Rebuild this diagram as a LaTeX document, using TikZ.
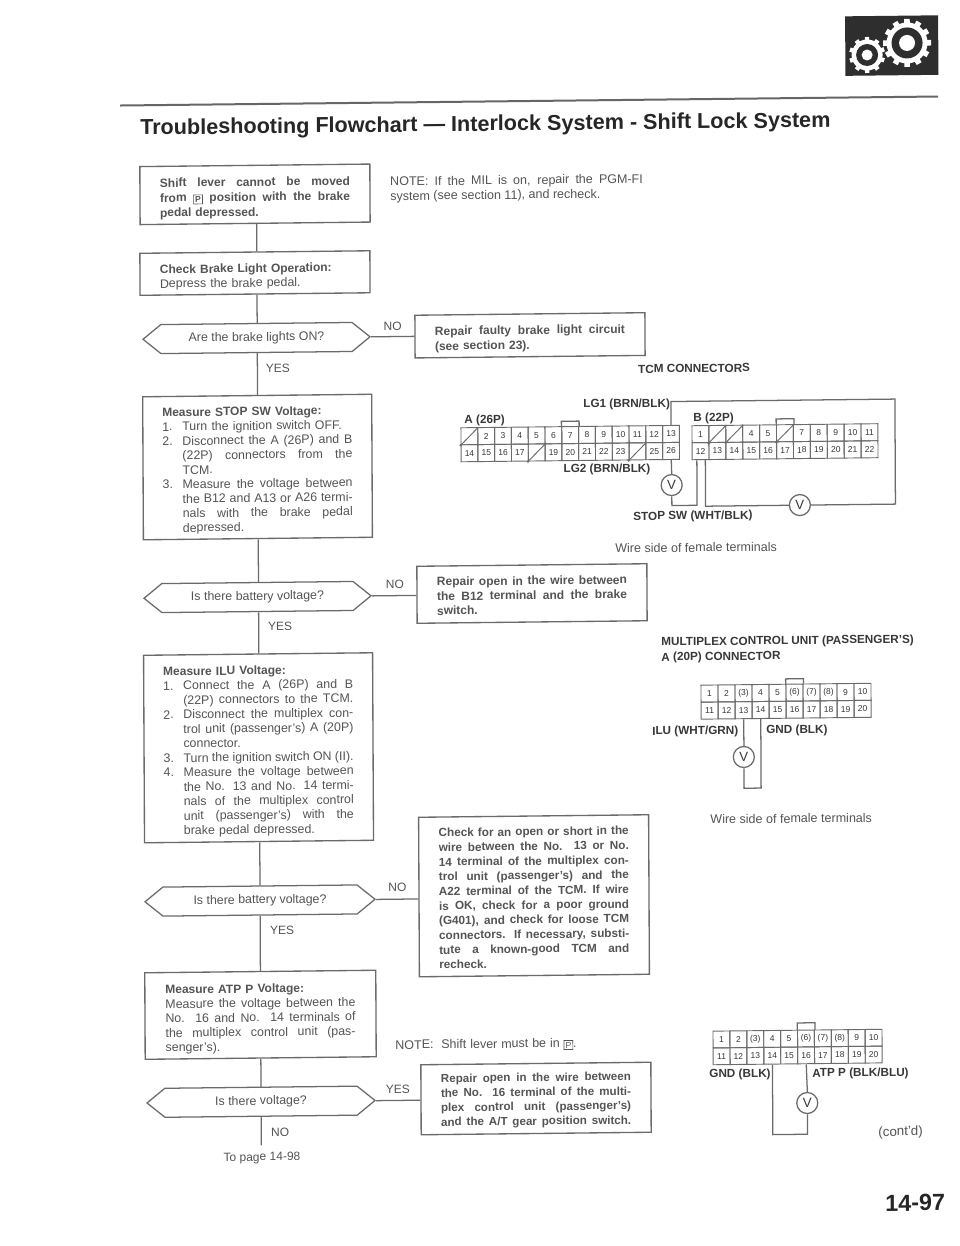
\documentclass[tikz,border=0pt]{standalone}
\usepackage{fontspec}
\setmainfont{Liberation Sans}
\usetikzlibrary{calc,shapes.symbols}
\definecolor{ink}{gray}{0.33}
\definecolor{bink}{gray}{0.22}
\definecolor{wirec}{gray}{0.42}
\newlength{\tw}\setlength{\tw}{142.5pt}
\newlength{\twi}\setlength{\twi}{127.5pt}
\newcommand{\sfx}{\spaceskip=0pt\relax\xspaceskip=0pt\relax}
\newcommand{\jl}[1]{\makebox[\tw][s]{\sfx #1}}
\newcommand{\itemj}[2]{\makebox[15pt][l]{#1}\makebox[\twi][s]{\sfx #2}}
\newcommand{\itemn}[2]{\makebox[15pt][l]{#1}#2}
\newcommand{\contj}[1]{\hspace*{15pt}\makebox[\twi][s]{\sfx #1}}
\newcommand{\contn}[1]{\hspace*{15pt}#1}
\newcommand{\tsh}[1]{\rule{0pt}{#1}}
\newcommand{\pkey}{\raisebox{-0.5pt}{\smash{\setlength{\fboxsep}{0.9pt}\setlength{\fboxrule}{0.5pt}\fbox{\fontsize{6.5}{7}\selectfont P}}}}
\newcommand{\conrow}[6]{%
  \foreach \num/\txt [count=\c from 0] in {#6}{%
    \node[cellbox,minimum width={#4*0.75pt},minimum height={#5*0.75pt}] (#1\num) at ({#2+(\c+0.5)*#4},{-#3}) {\txt};}}
\tikzset{
  ln/.style={draw=wirec,line width=0.95pt},
  flowbox/.style={draw=wirec,line width=1pt,inner sep=0pt,fill=white,align=left,text=ink,
    font=\fontsize{9.3}{10.85}\selectfont},
  hexbox/.style={shape=signal,signal to=east and west,signal pointer angle=78,draw=wirec,line width=0.95pt,
    inner sep=0pt,minimum height={29*0.75pt},text=ink,font=\fontsize{9.3}{11}\selectfont},
  cellbox/.style={draw=wirec,line width=0.7pt,inner sep=0pt,text=bink,font=\fontsize{6.4}{7}\selectfont},
  lab/.style={inner sep=0pt,anchor=west,yshift=-1.1pt,text=ink,font=\fontsize{9.4}{11}\selectfont},
  clab/.style={inner sep=0pt,text=ink,font=\fontsize{9}{11}\selectfont},
  blab/.style={lab,text=bink,font=\fontsize{8.8}{11}\selectfont\bfseries},
  meter/.style={circle,draw=wirec,line width=0.95pt,fill=white,inner sep=0pt,minimum size={21*0.75pt},
    text=bink,font=\fontsize{10}{11}\selectfont},
}
\begin{document}
\begin{tikzpicture}[x=0.75pt,y=0.75pt]
\useasboundingbox (0,0) rectangle (960,-1246);
\fill[white] (0,0) rectangle (960,-1246);
\begin{scope}[cm={1,0.011,-0.005,1,(-3,-2.86)},transform shape]
% header
\fill[black!82] (848,-22.8) rectangle (941,-82.3);
\foreach \a in {0,30,...,330}{\fill[white,shift={(909.8,-50.1)},rotate=\a] (-2.8,18) rectangle (2.8,24);}
\foreach \a in {0,36,...,324}{\fill[white,shift={(869.8,-61.7)},rotate=\a] (-2.2,13) rectangle (2.2,18);}
\fill[white] (909.8,-50.1) circle (20.5);
\fill[black!82] (909.8,-50.1) circle (15.5);
\fill[white] (909.8,-50.1) circle (8);
\fill[white] (869.8,-61.7) circle (15.5);
\fill[black!82] (869.8,-61.7) circle (11);
\fill[white] (869.8,-61.7) circle (5.5);
\draw[black!60,line width=1.5pt] (122.5,-104) -- (940.5,-104);
\node[inner sep=0pt,anchor=west,text=black!85,font=\fontsize{16.2}{19}\selectfont\bfseries] (title) at (142.4,-128)
  {Troubleshooting Flowchart — Interlock System - Shift Lock System};
% flow boxes
\coordinate (spine) at (258.5,0);
\node[flowbox,minimum width={230*0.75pt},minimum height={58*0.75pt},text width=142.5pt,font=\fontsize{9}{11.2}\selectfont\bfseries] (b1) at (257,-194.3)
  {\tsh{12pt}\jl{Shift lever cannot be moved}\\ \jl{from \pkey\ position with the brake}\\ pedal depressed.};
\node[flowbox,minimum width={230*0.75pt},minimum height={42*0.75pt},text width=142.5pt] (b2) at (256.6,-273)
  {\tsh{12pt}{\bfseries\fontsize{9}{10.85}\selectfont Check Brake Light Operation:}\\ Depress the brake pedal.};
\node[hexbox,minimum width={227*0.75pt}] (d1) at (257.8,-338) {Are the brake lights ON?};
\node[flowbox,minimum width={229*0.75pt},minimum height={143*0.75pt},text width=142.5pt] (b3) at (258.2,-467)
  {\tsh{11.5pt}{\bfseries\fontsize{9}{10.85}\selectfont Measure STOP SW Voltage:}\\
   \itemn{1.}{Turn the ignition switch OFF.}\\
   \itemj{2.}{Disconnect the A (26P) and B}\\
   \contj{(22P) connectors from the}\\
   \contn{TCM.}\\
   \itemj{3.}{Measure the voltage between}\\
   \contj{the B12 and A13 or A26 termi-}\\
   \contj{nals with the brake pedal}\\
   \contn{depressed.}};
\node[hexbox,minimum width={227*0.75pt}] (d2) at (257.5,-597) {Is there battery voltage?};
\node[flowbox,minimum width={229*0.75pt},minimum height={187.5*0.75pt},text width=142.5pt] (b4) at (257.8,-747.75)
  {\tsh{11.5pt}{\bfseries\fontsize{9}{10.85}\selectfont Measure ILU Voltage:}\\
   \itemj{1.}{Connect the A (26P) and B}\\
   \contj{(22P) connectors to the TCM.}\\
   \itemj{2.}{Disconnect the multiplex con-}\\
   \contj{trol unit (passenger's) A (20P)}\\
   \contn{connector.}\\
   \itemj{3.}{Turn the ignition switch ON (II).}\\
   \itemj{4.}{Measure the voltage between}\\
   \contj{the No. 13 and No. 14 termi-}\\
   \contj{nals of the multiplex control}\\
   \contj{unit (passenger's) with the}\\
   \contn{brake pedal depressed.}};
\node[hexbox,minimum width={230*0.75pt}] (d3) at (258.5,-900.5) {Is there battery voltage?};
\node[flowbox,minimum width={231*0.75pt},minimum height={86.5*0.75pt},text width=142.5pt] (b5) at (258.4,-1014.75)
  {\tsh{12.5pt}{\bfseries\fontsize{9}{10.85}\selectfont Measure ATP P Voltage:}\\
   \jl{Measure the voltage between the}\\
   \jl{No. 16 and No. 14 terminals of}\\
   \jl{the multiplex control unit (pas-}\\
   senger's).};
\node[hexbox,minimum width={228*0.75pt}] (d4) at (258.5,-1101.7) {Is there voltage?};
% right-hand boxes
\node[flowbox,minimum width={230*0.75pt},minimum height={42.7*0.75pt},text width=142.5pt,font=\fontsize{9}{11.2}\selectfont\bfseries] (r1) at (531.3,-338.3)
  {\tsh{11.5pt}\jl{Repair faulty brake light circuit}\\ (see section 23).};
\node[flowbox,minimum width={230*0.75pt},minimum height={57*0.75pt},text width=142.5pt,font=\fontsize{9}{10.9}\selectfont\bfseries] (r2) at (532,-596.5)
  {\tsh{9pt}\jl{Repair open in the wire between}\\ \jl{the B12 terminal and the brake}\\ switch.};
\node[flowbox,minimum width={230*0.75pt},minimum height={159.5*0.75pt},text width=142.5pt,font=\fontsize{8.8}{11}\selectfont\bfseries] (chk) at (532.5,-898.75)
  {\tsh{9pt}\jl{Check for an open or short in the}\\
   \jl{wire between the No. 13 or No.}\\
   \jl{14 terminal of the multiplex con-}\\
   \jl{trol unit (passenger's) and the}\\
   \jl{A22 terminal of the TCM. If wire}\\
   \jl{is OK, check for a poor ground}\\
   \jl{(G401), and check for loose TCM}\\
   \jl{connectors. If necessary, substi-}\\
   \jl{tute a known-good TCM and}\\
   recheck.};
\node[flowbox,minimum width={230*0.75pt},minimum height={70*0.75pt},text width=142.5pt,font=\fontsize{8.7}{10.9}\selectfont\bfseries] (r3) at (533.5,-1101.5)
  {\tsh{9pt}\jl{Repair open in the wire between}\\
   \jl{the No. 16 terminal of the multi-}\\
   \jl{plex control unit (passenger's)}\\
   \jl{and the A/T gear position switch.}};
% spine connectors
\draw[ln] (spine |- b1.south) -- (spine |- b2.north);
\draw[ln] (spine |- b2.south) -- (spine |- d1.north);
\draw[ln] (spine |- d1.south) -- (spine |- b3.north);
\draw[ln] (spine |- b3.south) -- (spine |- d2.north);
\draw[ln] (spine |- d2.south) -- (spine |- b4.north);
\draw[ln] (spine |- b4.south) -- (spine |- d3.north);
\draw[ln] (spine |- d3.south) -- (spine |- b5.north);
\draw[ln] (spine |- b5.south) -- (spine |- d4.north);
\coordinate (endnode) at (258.5,-1145);
\draw[ln] (spine |- d4.south) -- (endnode);
\draw[ln] (d1.east) -- (d1.east -| r1.west);
\draw[ln] (d2.east) -- (d2.east -| r2.west);
\draw[ln] (d3.east) -- (d3.east -| chk.west);
\draw[ln] (d4.east) -- (d4.east -| r3.west);
% flow labels
\node[clab] (y1) at (279,-368.2) {YES};
\node[clab] (y2) at (280,-626.2) {YES};
\node[clab] (y3) at (280.4,-930.2) {YES};
\node[clab] (n4) at (277.5,-1132.2) {NO};
\node[clab] (topage) at (259.2,-1158) {To page 14-98};
\node[clab] (n1) at (394,-327.5) {NO};
\node[clab] (n2) at (395,-585.5) {NO};
\node[clab] (n3) at (396,-888.5) {NO};
\node[clab] (y4) at (395.5,-1090.5) {YES};
\node[lab] (note1) at (392,-182.5) {\makebox[189.5pt][s]{NOTE: If the MIL is on, repair the PGM-FI}};
\node[lab] (note1b) at (392,-197.1) {system (see section 11), and recheck.};
\node[lab] (note2) at (392.8,-1045) {\makebox[136pt][s]{NOTE:\ \ Shift lever must be in \pkey.}};
% connector A
\conrow{A}{461.8}{438.5}{16.8}{17}{1/{},2/2,3/3,4/4,5/5,6/6,7/7,8/8,9/9,10/10,11/11,12/12,13/13}
\conrow{A}{461.8}{455.5}{16.8}{17}{14/14,15/15,16/16,17/17,18/{},19/19,20/20,21/21,22/22,23/23,24/{},25/25,26/26}
\foreach \s in {A1,A18,A24}{\draw[ln,line width=0.7pt] (\s.south west) -- (\s.north east); \fill[wirec] (\s.south west) circle (1.3);}
\draw[ln] (A7.north west) -- ++(0,5) -| (A7.north east);
% connector B
\conrow{B}{692.8}{439}{16.9}{17}{1/1,2/{},3/{},4/4,5/5,6/{},7/7,8/8,9/9,10/10,11/11}
\conrow{B}{692.8}{456}{16.9}{17}{12/12,13/13,14/14,15/15,16/16,17/17,18/18,19/19,20/20,21/21,22/22}
\foreach \s in {B2,B3,B6}{\draw[ln,line width=0.7pt] (\s.south west) -- (\s.north east); \fill[wirec] (\s.south west) circle (1.3);}
\draw[ln] (B6.north west) -- ++(0,5.5) -| (B6.north east);
% TCM wiring
\node[meter] (VA) at (672.2,-489.6) {V};
\node[meter] (VB) at (800.3,-511) {V};
\coordinate (B12a) at ($(B12.south)+(-4,0)$);
\coordinate (B12b) at ($(B12.south)+(4.5,0)$);
\coordinate (wb) at (700,-510);
\coordinate (tr) at (895.7,-406);
\draw[ln] (A26.south) -- (VA.north);
\draw[ln] (VA.south) |- (B12a |- wb) -- (B12a);
\draw[ln] (B12b) |- (VB.west);
\draw[ln] (VB.east) -| (tr) -| (A13.north);
\node[blab] (lbA) at (465,-421.5) {A (26P)};
\node[blab] (lbB) at (694,-422) {B (22P)};
\node[blab] (lg1) at (584,-407) {LG1 (BRN/BLK)};
\node[blab] (lg2) at (564,-471.8) {LG2 (BRN/BLK)};
\node[blab] (stop) at (633.5,-519.8) {STOP SW (WHT/BLK)};
\node[blab] (tcm) at (639,-371.8) {TCM CONNECTORS};
\node[lab] (ws1) at (615.3,-550.8) {Wire side of female terminals};
% connector C
\node[blab] (mul1) at (660.8,-645.8) {MULTIPLEX CONTROL UNIT (PASSENGER'S)};
\node[blab] (mul2) at (660.8,-661) {A (20P) CONNECTOR};
\conrow{C}{700.5}{698.5}{17}{17}{1/1,2/2,3/{(3)},4/4,5/5,6/{(6)},7/{(7)},8/{(8)},9/9,10/10}
\conrow{C}{700.5}{715.5}{17}{17}{11/11,12/12,13/13,14/14,15/15,16/16,17/17,18/18,19/19,20/20}
\draw[ln] (C6.north west) -- ++(0,5) -| (C6.north east);
\node[meter] (VC) at (743,-762.3) {V};
\coordinate (cb) at (750,-793.4);
\draw[ln] (C13.south) -- (VC.north);
\draw[ln] (VC.south) |- (C14 |- cb) -- (C14.south);
\node[blab] (ilu) at (651.3,-734.8) {ILU (WHT/GRN)};
\node[blab] (gnd1) at (765.3,-734.9) {GND (BLK)};
\node[lab] (ws2) at (709,-822.8) {Wire side of female terminals};
% connector D
\conrow{D}{710.8}{1044.5}{16.9}{16.8}{1/1,2/2,3/{(3)},4/4,5/5,6/{(6)},7/{(7)},8/{(8)},9/9,10/10}
\conrow{D}{710.8}{1061.3}{16.9}{16.8}{11/11,12/12,13/13,14/14,15/15,16/16,17/17,18/18,19/19,20/20}
\draw[ln] (D6.north west) -- ++(0,7) -| (D6.north east);
\node[meter] (VD) at (804.7,-1109) {V};
\coordinate (db) at (790,-1140);
\draw[ln] (D16.south) -- (VD.north);
\draw[ln] (VD.south) |- (D14 |- db) -- (D14.south);
\node[blab] (gnd2) at (706.7,-1078.3) {GND (BLK)};
\node[blab] (atp) at (809.7,-1078.6) {ATP P (BLK/BLU)};
\node[lab,font=\fontsize{10}{11}\selectfont] (contd) at (875.4,-1138) {(cont'd)};
\node[inner sep=0pt,anchor=west,text=black!85,font=\fontsize{17.5}{20}\selectfont\bfseries] (pg) at (882,-1210) {14-97};
\end{scope}
\end{tikzpicture}
\end{document}
